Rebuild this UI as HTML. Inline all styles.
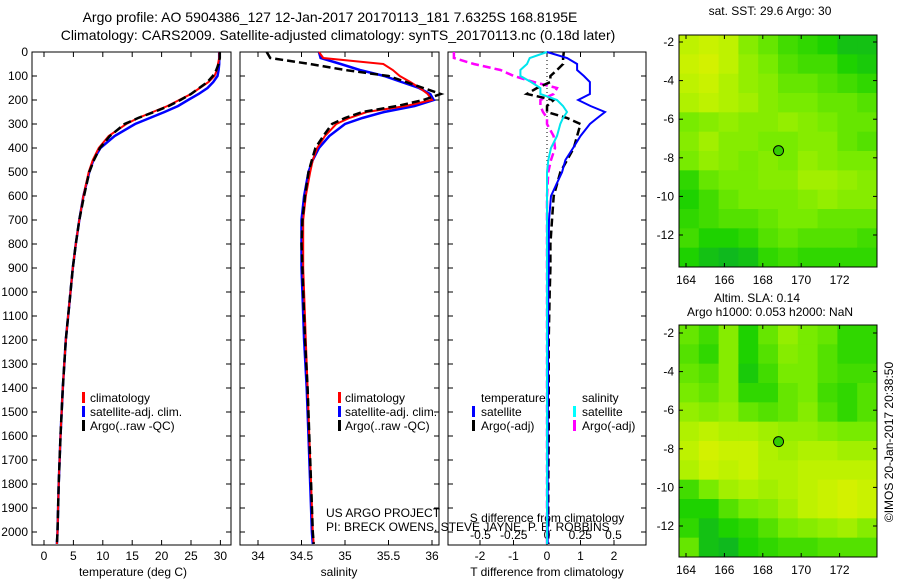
<!DOCTYPE html>
<html><head><meta charset="utf-8"><style>
body{margin:0;background:#fff;}
svg{display:block;font-family:"Liberation Sans",sans-serif;}
</style></head><body>
<svg id="c" width="900" height="580">
<text x="330" y="22" font-size="14" text-anchor="middle">Argo profile: AO 5904386_127 12-Jan-2017 20170113_181 7.6325S 168.8195E</text>
<text x="338" y="40" font-size="14" text-anchor="middle">Climatology: CARS2009. Satellite-adjusted climatology: synTS_20170113.nc (0.18d later)</text>
<text x="770" y="15" font-size="12" text-anchor="middle">sat. SST: 29.6 Argo: 30</text>
<text x="757" y="302" font-size="12" text-anchor="middle">Altim. SLA: 0.14</text>
<text x="770" y="316" font-size="12" text-anchor="middle">Argo h1000: 0.053 h2000: NaN</text>
<text transform="translate(893,442) rotate(-90)" font-size="12" text-anchor="middle">©IMOS 20-Jan-2017 20:38:50</text>
<g id="g"></g>
</svg>
<script>
const depths=[0,25,50,75,100,125,150,175,200,225,250,275,300,350,400,450,500,600,700,800,900,1000,1200,1400,1600,1800,2000,2050];
const tempClim=[29.8,29.8,29.6,29.4,29,28,26.5,25,23,21,18.5,16,14,11,9.3,8.3,7.6,6.7,6,5.4,4.9,4.5,3.7,3.2,2.8,2.5,2.3,2.2];
const tempSat=[29.8,29.8,29.8,29.7,29.5,28.8,27.8,26.3,24.5,22.8,20.5,18,15.5,12,9.6,8.4,7.7,6.7,6,5.4,4.9,4.5,3.7,3.2,2.8,2.5,2.3,2.2];
const tempArgo=[29.9,29.9,29.7,29.3,28.7,27.8,26.4,25,23.2,21.2,18.7,16,13.7,11.2,9.5,8.5,7.7,6.8,6,5.4,4.9,4.5,3.7,3.2,2.8,2.5,2.3,2.2];
const salClim=[34.7,34.75,35.44,35.55,35.63,35.75,35.86,35.95,36.0,35.7,35.25,35.05,34.9,34.77,34.68,34.63,34.6,34.55,34.52,34.52,34.52,34.53,34.55,34.57,34.59,34.61,34.63,34.64];
const salSat=[34.7,34.72,34.95,35.17,35.45,35.65,35.85,35.98,36.02,35.8,35.45,35.2,35.0,34.82,34.7,34.63,34.58,34.53,34.5,34.5,34.5,34.51,34.53,34.56,34.58,34.6,34.62,34.63];
const salArgo=[34.1,34.14,34.6,35.0,35.5,35.7,35.9,36.1,35.9,35.6,35.2,35.0,34.85,34.75,34.66,34.62,34.58,34.54,34.51,34.5,34.51,34.52,34.54,34.57,34.59,34.61,34.63,34.64];
const dTSat=[0,0.6,0.9,0.9,1.1,1.28,1.28,1.28,0.93,1.3,1.73,1.5,1.28,1.0,0.78,0.55,0.45,0.12,0.06,0.05,0.05,0.04,0.03,0.03,0.02,0.02,0.02,0.02];
const dTArgo=[0.5,0.48,0.48,0.3,0.1,0.1,-0.3,-0.6,0.2,0,0,0.6,1.0,0.9,0.8,0.6,0.4,0.2,0.15,0.1,0.1,0.08,0.05,0.05,0.05,0.04,0.04,0.04];
const dSSat=[0,-0.13,-0.15,-0.2,-0.2,-0.12,-0.05,-0.05,0.075,0.12,0.15,0.12,0.1,0.075,0.03,0.01,0,0,0,0,0,0,0,0,0,0,0,0];
const dSArgo=[-0.7,-0.7,-0.55,-0.35,-0.25,-0.1,0.075,0.05,-0.05,-0.05,-0.03,0,0,0.05,0.06,0.03,0.01,0,0,0,0,0,0,0,0,0,0,0];
const depthTicks=[0,100,200,300,400,500,600,700,800,900,1000,1100,1200,1300,1400,1500,1600,1700,1800,1900,2000];
const tempTicks=[0,5,10,15,20,25,30];
const salTicks=[34,34.5,35,35.5,36];
const dTTicks=[-2,-1,0,1,2];
const dSTicks=[-0.5,-0.25,0,0.25,0.5];
const dSTickLabels=["-0.5","-0.25","0","0.25","0.5"];
const lonTicks=[164,166,168,170,172];
const latTicks=[-2,-4,-6,-8,-10,-12];
const sstGrid=[
[.8,.85,.8,.6,.5,.4,.35,.3,.2,.2],
[.85,.9,.8,.65,.55,.45,.4,.4,.3,.25],
[.8,.85,.75,.65,.6,.5,.5,.45,.4,.35],
[.75,.8,.75,.7,.6,.55,.55,.5,.5,.45],
[.55,.6,.65,.6,.6,.65,.6,.55,.5,.5],
[.6,.7,.6,.6,.55,.55,.6,.6,.5,.45],
[.55,.65,.6,.55,.6,.55,.65,.6,.55,.55],
[.35,.5,.55,.55,.6,.6,.7,.7,.65,.6],
[.3,.4,.5,.55,.55,.55,.6,.65,.6,.6],
[.35,.4,.45,.45,.5,.55,.55,.5,.5,.5],
[.4,.3,.3,.35,.45,.5,.45,.45,.45,.4],
[.3,.2,.15,.2,.35,.4,.35,.35,.35,.35]];
const slaGrid=[
[.5,.4,.6,.3,.5,.65,.55,.5,.35,.35],
[.45,.35,.6,.3,.45,.6,.55,.45,.35,.35],
[.5,.45,.6,.25,.4,.55,.55,.45,.4,.4],
[.55,.5,.6,.35,.35,.5,.55,.4,.35,.45],
[.65,.6,.65,.5,.45,.5,.6,.45,.35,.45],
[.75,.8,.75,.75,.7,.65,.65,.6,.55,.55],
[.8,.9,.85,.85,.75,.7,.75,.75,.7,.7],
[.75,.85,.8,.85,.75,.75,.8,.8,.8,.8],
[.4,.55,.7,.75,.7,.75,.8,.85,.9,.85],
[.3,.3,.45,.55,.6,.7,.8,.85,.9,.85],
[.35,.2,.3,.35,.45,.55,.6,.65,.7,.6],
[.5,.2,.15,.3,.35,.4,.4,.45,.45,.45]];
const argoLon=168.82, argoLat=-7.63;

const NS="http://www.w3.org/2000/svg";
const G=document.getElementById('g');
function mk(t,a,p){const e=document.createElementNS(NS,t);for(const k in a)e.setAttribute(k,a[k]);(p||G).appendChild(e);return e;}
const Y=d=>52+d*0.24;
const PT=52,PB=545;
function panel(x0,x1,name){const r=mk('rect',{x:x0,y:PT,width:x1-x0,height:PB-PT,fill:'none',stroke:'#000','stroke-width':1});

}
function line(xs,ds,fx,col,w,dash,name){
 const pts=xs.map((v,i)=>fx(v).toFixed(1)+','+Y(ds[i]).toFixed(1)).join(' ');
 const p=mk('polyline',{points:pts,fill:'none',stroke:col,'stroke-width':w});
 if(dash)p.setAttribute('stroke-dasharray',dash);
 
 }
function txt(x,y,s,sz,anc,name,col){const t=mk('text',{x:x,y:y,'font-size':sz,'text-anchor':anc||'start',fill:col||'#000'});t.textContent=s;
 
 return t;}
function xticks(ticks,fx,labels,name,ly){ticks.forEach((v,i)=>{const x=fx(v);
 mk('line',{x1:x,x2:x,y1:PB,y2:PB-5,stroke:'#000'});mk('line',{x1:x,x2:x,y1:PT,y2:PT+5,stroke:'#000'});
 txt(x,ly||PB+15,labels?labels[i]:String(v),12,'middle',name);});}

const fT=v=>44+v*5.88;
panel(32,231,'temperature-panel');
depthTicks.forEach(d=>{const y=Y(d);mk('line',{x1:32,x2:37,y1:y,y2:y,stroke:'#000'});mk('line',{x1:226,x2:231,y1:y,y2:y,stroke:'#000'});
 txt(28,y+4,String(d),12,'end','depth-tick-label');});
xticks(tempTicks,fT,null,'temp-tick-label');
txt(133,576,'temperature (deg C)',12,'middle','temperature-axis-title');
line(tempSat,depths,fT,'#0000ff',2.5,null,'temp-satellite-line');
line(tempClim,depths,fT,'#ff0000',2,null,'temp-climatology-line');
line(tempArgo,depths,fT,'#000',2.5,'8,4','temp-argo-line');
[['#f00','climatology'],['#00f','satellite-adj. clim.'],['#000','Argo(..raw -QC)']].forEach((l,i)=>{
 mk('rect',{x:82,y:392+i*14,width:3,height:11,fill:l[0]});txt(90,402+i*14,l[1],12,'start','temp-legend-entry');});

const fS=v=>258+(v-34)*87;
panel(240,439,'salinity-panel');
depthTicks.forEach(d=>{const y=Y(d);mk('line',{x1:240,x2:245,y1:y,y2:y,stroke:'#000'});mk('line',{x1:434,x2:439,y1:y,y2:y,stroke:'#000'});});
xticks(salTicks,fS,null,'salinity-tick-label');
txt(339,576,'salinity',12,'middle','salinity-axis-title');
line(salSat,depths,fS,'#0000ff',2.5,null,'sal-satellite-line');
line(salClim,depths,fS,'#ff0000',2,null,'sal-climatology-line');
line(salArgo,depths,fS,'#000',2.5,'8,4','sal-argo-line');
[['#f00','climatology'],['#00f','satellite-adj. clim.'],['#000','Argo(..raw -QC)']].forEach((l,i)=>{
 mk('rect',{x:338,y:392+i*14,width:3,height:11,fill:l[0]});txt(345,402+i*14,l[1],12,'start','sal-legend-entry');});
txt(326,517,'US ARGO PROJECT',12,'start','project-credit');
txt(326,531,'PI: BRECK OWENS, STEVE JAYNE, P. E. ROBBINS',12,'start','pi-credit');

const fdT=v=>547+v*33.5, fdS=v=>547+v*133;
panel(448,646,'difference-panel');
depthTicks.forEach(d=>{const y=Y(d);mk('line',{x1:448,x2:453,y1:y,y2:y,stroke:'#000'});mk('line',{x1:641,x2:646,y1:y,y2:y,stroke:'#000'});});
xticks(dTTicks,fdT,null,'dT-tick-label');
dSTicks.forEach((v,i)=>txt(fdS(v),PB-6,dSTickLabels[i],12,'middle','dS-tick-label'));
txt(547,522,'S difference from climatology',12,'middle','dS-axis-title');
txt(547,576,'T difference from climatology',12,'middle','dT-axis-title');
line(depths.map(()=>0),depths,fdT,'#000',1,'1,3','zero-line');
line(dSArgo,depths,fdS,'#ff00ff',2.5,'8,4','dS-argo-line');
line(dTArgo,depths,fdT,'#000',2.5,'8,4','dT-argo-line');
line(dTSat,depths,fdT,'#0000ff',2,null,'dT-satellite-line');
line(dSSat,depths,fdS,'#00e5ee',2,null,'dS-satellite-line');
txt(481,402,'temperature',12,'start','diff-legend-header');
txt(582,402,'salinity',12,'start','diff-legend-header');
[['#00f','satellite',472],['#000','Argo(-adj)',472],['#0ff','satellite',573],['#f0f','Argo(-adj)',573]].forEach((l,i)=>{
 const r=i%2;mk('rect',{x:l[2],y:406+r*14,width:3,height:11,fill:l[0]});txt(l[2]+9,416+r*14,l[1],12,'start','diff-legend-entry');});

const stops=[[0,[0,160,60]],[0.3,[30,210,0]],[0.55,[120,235,0]],[0.8,[190,242,0]],[1,[232,240,0]]];
function cmap(v){for(let i=1;i<stops.length;i++){if(v<=stops[i][0]){const a=stops[i-1],b=stops[i],t=(v-a[0])/(b[0]-a[0]);
 return 'rgb('+a[1].map((c,k)=>Math.round(c+(b[1][k]-c)*t)).join(',')+')';}}return 'rgb(232,240,0)';}
function map(grid,top,bot,latRef,name){
 const L=679,R=877;const fx=lon=>686+(lon-164)*19.2;const fy=lat=>latRef+(-2-lat)*19.3;
 const rows=grid.length,cols=grid[0].length,cw=(R-L)/cols,ch=(bot-top)/rows;
 grid.forEach((row,j)=>row.forEach((v,i)=>{const c=mk('rect',{x:L+i*cw,y:top+j*ch,width:cw+0.5,height:ch+0.5,fill:cmap(v)});
  
  }));
 const b=mk('rect',{x:L,y:top,width:R-L,height:bot-top,fill:'none',stroke:'#000','stroke-width':1});
 
 
 lonTicks.forEach(v=>{const x=fx(v);mk('line',{x1:x,x2:x,y1:bot,y2:bot-4,stroke:'#000'});mk('line',{x1:x,x2:x,y1:top,y2:top+4,stroke:'#000'});txt(x,bot+17,String(v),12,'middle','lon-tick-label');});
 latTicks.forEach(v=>{const y=fy(v);mk('line',{x1:L,x2:L+4,y1:y,y2:y,stroke:'#000'});mk('line',{x1:R-4,x2:R,y1:y,y2:y,stroke:'#000'});txt(L-5,y+4,String(v),12,'end','lat-tick-label');});
 const m=mk('circle',{cx:fx(argoLon),cy:fy(argoLat),r:5,fill:'#33cc00',stroke:'#000'});
 
 
}
map(sstGrid,35,267,42,'sst-map');
map(slaGrid,325,557,333,'sla-map');
</script>
</body></html>
